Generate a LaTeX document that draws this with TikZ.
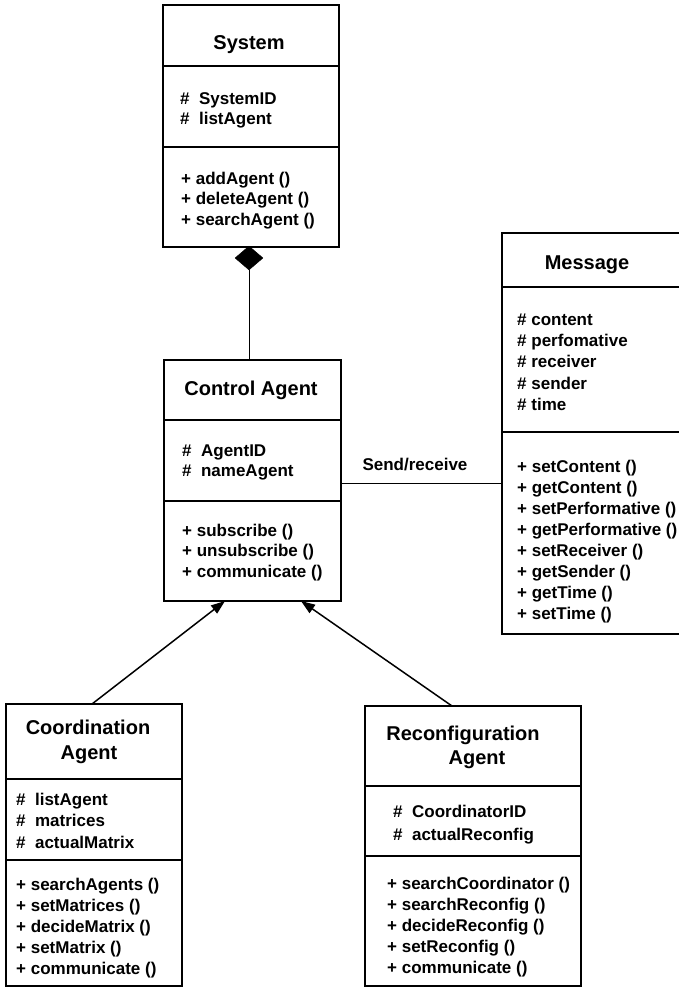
\documentclass[tikz,border=0pt]{standalone}
\usepackage{fontspec}
\setmainfont{Liberation Sans}
\usetikzlibrary{arrows.meta,shapes.geometric}
\begin{document}
\begin{tikzpicture}[x=1pt,y=-1pt,
  classbox/.style={draw,line width=1.6pt,inner sep=0,outer sep=0,anchor=north west},
  divider/.style={line width=1.6pt},
  classtitle/.style={font=\bfseries\fontsize{20}{24}\selectfont,inner sep=0,anchor=mid,yshift=-3.5pt},
  member/.style={font=\bfseries\fontsize{17}{20}\selectfont,inner sep=0,anchor=mid west,yshift=-3.5pt},
  link/.style={line width=0.8pt},
  inherit/.style={line width=1.5pt,-{Triangle[length=14pt,width=10pt]}}]
\useasboundingbox (0,0) rectangle (679,987);
\clip (0,0) rectangle (679,987);

% ---------- System ----------
\node[classbox,minimum width=176pt,minimum height=242pt] (sys) at (163,5) {};
\draw[divider] (sys.west |- 0,66) -- (sys.east |- 0,66);
\draw[divider] (sys.west |- 0,147) -- (sys.east |- 0,147);
\node[classtitle] (sysT) at (249,43) {System};
\foreach \t [count=\i] in {SystemID,listAgent}
  \node[member] (sysA\i) at (180,{98+20.5*(\i-1)}) {\#\ \ \t};
\foreach \t [count=\i] in {addAgent (),deleteAgent (),searchAgent ()}
  \node[member] (sysM\i) at (181,{178+20.5*(\i-1)}) {+ \t};

% composition diamond under System
\node[diamond,draw,fill,inner sep=0,minimum width=28pt,minimum height=24pt] (dia) at (249,258) {};

% ---------- Control Agent ----------
\node[classbox,minimum width=177pt,minimum height=241pt] (ctrl) at (164,360) {};
\draw[divider] (ctrl.west |- 0,420) -- (ctrl.east |- 0,420);
\draw[divider] (ctrl.west |- 0,501) -- (ctrl.east |- 0,501);
\node[classtitle] (ctrlT) at (251,389) {Control Agent};
\foreach \t [count=\i] in {AgentID,nameAgent}
  \node[member] (ctrlA\i) at (182,{450+20.5*(\i-1)}) {\#\ \ \t};
\foreach \t [count=\i] in {subscribe (),unsubscribe (),communicate ()}
  \node[member] (ctrlM\i) at (182,{530+20.5*(\i-1)}) {+ \t};

\draw[link] (dia.south) -- (dia.south |- ctrl.north);

% ---------- Message ----------
\node[classbox,minimum width=179pt,minimum height=401pt] (msg) at (502,233) {};
\draw[divider] (msg.west |- 0,287) -- (msg.east |- 0,287);
\draw[divider] (msg.west |- 0,432) -- (msg.east |- 0,432);
\node[classtitle] (msgT) at (587,263) {Message};
\foreach \t [count=\i] in {content,perfomative,receiver,sender,time}
  \node[member] (msgA\i) at (517,{319+21.3*(\i-1)}) {\# \t};
\foreach \t [count=\i] in {setContent (),getContent (),setPerformative (),getPerformative (),setReceiver (),getSender (),getTime (),setTime ()}
  \node[member] (msgM\i) at (517,{466+21*(\i-1)}) {+ \t};

\draw[link] (ctrl.east |- 0,483) -- (msg.west |- 0,483);
\node[member,anchor=mid] (sendlbl) at (415,464) {Send/receive};

% ---------- Coordination Agent ----------
\node[classbox,minimum width=176pt,minimum height=282pt] (coord) at (6,704) {};
\draw[divider] (coord.west |- 0,779) -- (coord.east |- 0,779);
\draw[divider] (coord.west |- 0,860) -- (coord.east |- 0,860);
\node[classtitle] (coordT1) at (88,728) {Coordination};
\node[classtitle] (coordT2) at (89,753) {Agent};
\foreach \t [count=\i] in {listAgent,matrices,actualMatrix}
  \node[member] (coordA\i) at (16,{799+21.5*(\i-1)}) {\#\ \ \t};
\foreach \t [count=\i] in {searchAgents (),setMatrices (),decideMatrix (),setMatrix (),communicate ()}
  \node[member] (coordM\i) at (16,{884+21*(\i-1)}) {+ \t};

% ---------- Reconfiguration Agent ----------
\node[classbox,minimum width=216pt,minimum height=280pt] (reconf) at (365,706) {};
\draw[divider] (reconf.west |- 0,786) -- (reconf.east |- 0,786);
\draw[divider] (reconf.west |- 0,856) -- (reconf.east |- 0,856);
\node[classtitle] (reconfT1) at (463,734) {Reconfiguration};
\node[classtitle] (reconfT2) at (477,758) {Agent};
\foreach \t [count=\i] in {CoordinatorID,actualReconfig}
  \node[member] (reconfA\i) at (393,{811+23*(\i-1)}) {\#\ \ \t};
\foreach \t [count=\i] in {searchCoordinator (),searchReconfig (),decideReconfig (),setReconfig (),communicate ()}
  \node[member] (reconfM\i) at (387,{883+21*(\i-1)}) {+ \t};

% ---------- generalisation arrows ----------
\draw[inherit] ([xshift=86pt]coord.north west) -- ([xshift=61pt]ctrl.south west);
\draw[inherit] ([xshift=87pt]reconf.north west) -- ([xshift=137pt]ctrl.south west);
\end{tikzpicture}
\end{document}
